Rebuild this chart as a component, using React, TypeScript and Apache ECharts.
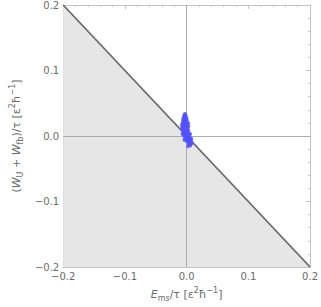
import React, { useEffect, useRef } from "react";
import * as echarts from "echarts";

const xTicks = [-0.2, -0.1, 0.0, 0.1, 0.2];
const yTicks = [-0.2, -0.1, 0.0, 0.1, 0.2];
const boundary: [number, number][] = [[-0.2, 0.2], [0.2, -0.2]];
const points: [number, number][] = [
  [-0.003,0.034],[-0.002,0.033],[-0.004,0.032],[-0.001,0.031],[-0.003,0.030],[-0.005,0.029],[-0.002,0.028],[0.000,0.028],
  [-0.004,0.027],[-0.006,0.026],[-0.001,0.026],[-0.003,0.025],[0.001,0.024],[-0.005,0.024],[-0.002,0.023],[-0.006,0.022],
  [0.000,0.022],[-0.004,0.021],[-0.001,0.020],[-0.007,0.020],[0.001,0.019],[-0.003,0.019],[-0.005,0.018],[-0.007,0.017],
  [0.002,0.017],[-0.002,0.016],[-0.006,0.015],[0.000,0.015],[-0.004,0.014],[0.002,0.013],[-0.007,0.013],[-0.001,0.012],
  [-0.005,0.011],[0.001,0.011],[-0.003,0.010],[0.003,0.009],[-0.006,0.009],[0.000,0.008],[-0.004,0.007],[0.002,0.007],
  [-0.002,0.006],[-0.006,0.005],[0.004,0.005],[0.000,0.004],[-0.004,0.003],[0.002,0.003],[-0.002,0.002],[0.005,0.002],
  [-0.005,0.001],[0.001,0.001],[0.003,0.000],[-0.003,-0.001],[0.000,-0.001],[0.005,-0.002],[-0.001,-0.003],[0.002,-0.003],
  [0.006,-0.004],[-0.003,-0.004],[0.001,-0.005],[0.004,-0.005],[0.007,-0.006],[-0.001,-0.006],[0.003,-0.007],[0.005,-0.008],
  [0.000,-0.008],[0.008,-0.009],[0.002,-0.009],[0.004,-0.010],[0.006,-0.011],[0.003,-0.012],[0.007,-0.012],[0.005,-0.013],
  [0.004,-0.014],[0.006,-0.015],[-0.008,0.016],[-0.008,0.011],[0.003,0.015],[0.003,0.020],[0.006,0.003],[0.008,-0.004],
  [0.009,-0.011],[0.002,-0.016],[-0.007,0.003],[-0.004,-0.006]
];

const fmt = (v: number) => {
  const s = Math.abs(v).toFixed(1);
  return v < -1e-9 ? "\u2212" + s : s;
};

const labelColor = "#6b6b6b";
const frameColor = "#c4c4c4";
const font = "DejaVu Sans";

const rich = {
  n: { fontSize: 11, color: labelColor, fontFamily: font },
  i: { fontSize: 11, color: labelColor, fontFamily: font, fontStyle: "italic" as const },
  sub: { fontSize: 8, color: labelColor, fontFamily: font, verticalAlign: "bottom" as const, lineHeight: 16 },
  sup: { fontSize: 8, color: labelColor, fontFamily: font, verticalAlign: "top" as const, lineHeight: 16 },
};

function makeAxis(show: boolean, pos: string, name?: string, nameGap?: number, rotate?: number) {
  return {
    type: "value",
    min: -0.2,
    max: 0.2,
    interval: 0.1,
    position: pos,
    name: name,
    nameLocation: "middle",
    nameGap: nameGap,
    nameRotate: rotate,
    nameTextStyle: { rich, color: labelColor, fontFamily: font, fontSize: 11 },
    axisLine: { show: true, onZero: false, lineStyle: { color: frameColor, width: 1 } },
    axisTick: { show: true, inside: true, length: 4, lineStyle: { color: frameColor } },
    minorTick: { show: true, splitNumber: 5, length: 2, lineStyle: { color: frameColor } },
    axisLabel: { show, color: labelColor, fontFamily: font, fontSize: 10, margin: 4, formatter: fmt },
    splitLine: { show: false },
  };
}

export default function App() {
  const ref = useRef<HTMLDivElement>(null);
  useEffect(() => {
    if (!ref.current) return;
    const chart = echarts.init(ref.current, null, { renderer: "svg" });
    chart.setOption({
      animation: false,
      backgroundColor: "#ffffff",
      grid: { left: 46, right: 9, top: 5, bottom: 37, containLabel: false },
      xAxis: [
        makeAxis(true, "bottom", "{i|E}{sub|ms}{n|/τ [ε}{sup|2}{n|ħ}{sup|−1}{n|]}", 19),
        makeAxis(false, "top"),
      ],
      yAxis: [
        makeAxis(true, "left", "{n|(}{i|W}{sub|U}{n| + }{i|W}{sub|fb}{n|)/τ [ε}{sup|2}{n|ħ}{sup|−1}{n|]}", 28, 90),
        makeAxis(false, "right"),
      ],
      series: [
        {
          type: "line",
          data: boundary,
          symbol: "none",
          lineStyle: { color: "#707070", width: 1.3 },
          areaStyle: { color: "#e6e6e6", opacity: 1, origin: "start" },
          z: 1,
          markLine: {
            silent: true,
            symbol: "none",
            label: { show: false },
            lineStyle: { color: "#ababab", width: 1, type: "solid" },
            data: [{ xAxis: 0 }, { yAxis: 0 }],
            z: 2,
          },
        },
        {
          type: "line",
          data: boundary,
          symbol: "none",
          lineStyle: { color: "#707070", width: 1.3 },
          z: 3,
        },
        {
          type: "scatter",
          data: points,
          symbol: "circle",
          symbolSize: 3.5,
          itemStyle: { color: "#5151ff" },
          z: 4,
        },
      ],
    });
    return () => chart.dispose();
  }, []);
  return <div ref={ref} style={{ width: 321, height: 307, position: "absolute", left: 0, top: 0 }} />;
}
